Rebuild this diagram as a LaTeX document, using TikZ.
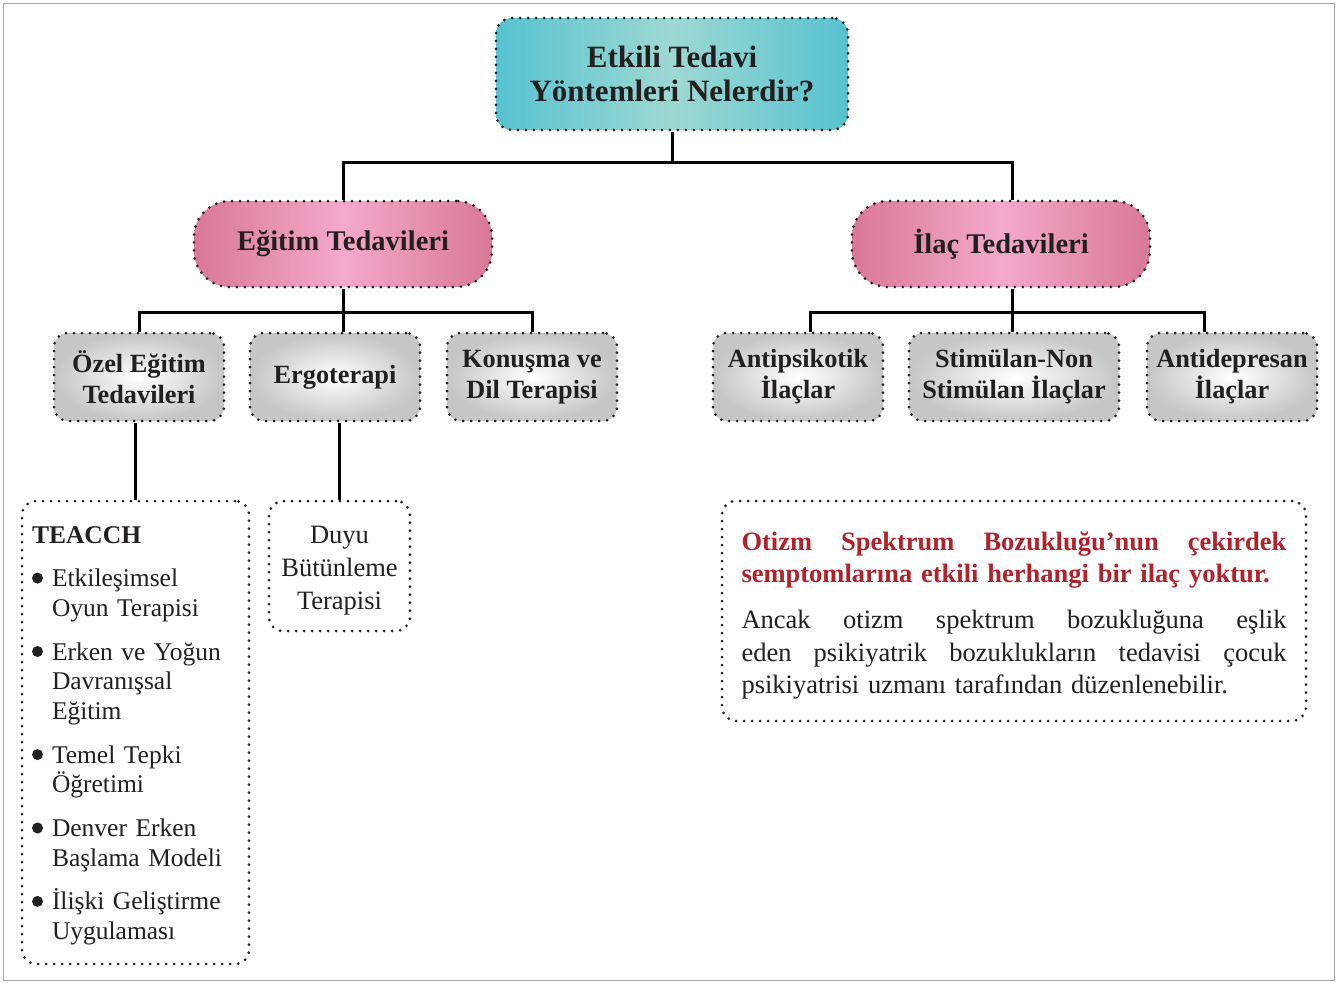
\documentclass[tikz,border=0pt]{standalone}
\usepackage{fontspec}
\setmainfont{Liberation Serif}
\usetikzlibrary{shapes}
\definecolor{ink}{HTML}{231F20}
\definecolor{tealedge}{HTML}{56C2CF}
\definecolor{tealmid}{HTML}{9ED8D3}
\definecolor{pinkedge}{HTML}{D97896}
\definecolor{pinkmid}{HTML}{F4A9CB}
\definecolor{inkred}{HTML}{B3222B}
\newcommand{\lbul}{\makebox[20pt][l]{\tikz[baseline=0pt, x=1pt, y=1pt]\fill[ink] (6.5,8.5) circle (5.5);}}
\newcommand{\lind}{\hspace*{20pt}}
\tikzstyle{dotline} = [draw=ink, line width=3pt, line cap=round, dash pattern=on 0pt off 8pt]
\tikzstyle{root} = [rectangle, dotline, rounded corners=16pt, left color=tealedge,
    right color=tealedge, middle color=tealmid, text=ink, minimum width=352pt,
    minimum height=112pt, align=center, font=\fontsize{31}{34}\selectfont\bfseries]
\tikzstyle{branch} = [rectangle, dotline, rounded corners=36pt, left color=pinkedge,
    right color=pinkedge, middle color=pinkmid, text=ink, minimum width=298pt,
    minimum height=86pt, align=center, font=\fontsize{28.5}{32}\selectfont\bfseries]
\tikzstyle{leaf} = [rectangle, dotline, rounded corners=14pt, inner color=white,
    outer color=gray!45, text=ink, minimum width=170pt, minimum height=88pt,
    inner sep=2pt, align=center, font=\fontsize{26.3}{31}\selectfont\bfseries]
\tikzstyle{listbox} = [rectangle, dotline, rounded corners=14pt, fill=white, text=ink, inner sep=0pt]
\tikzstyle{line} = [draw=black, line width=3pt]

\begin{document}
\begin{tikzpicture}[x=1pt, y=-1pt]
   \useasboundingbox (0,0) rectangle (1342,983);
   \draw [gray!70, line width=1pt] (3,3) rectangle (1334,980);
   % Place nodes
    \node [root] (root) at (672,74) {Etkili Tedavi\\Yöntemleri Nelerdir?};
    \node [branch] (egitim) at (343,244) {Eğitim Tedavileri};
    \node [branch, right of=egitim, node distance=658pt] (ilac) {İlaç Tedavileri};
    \node [leaf] (ozel) at (139,377) {Özel Eğitim\\Tedavileri};
    \node [leaf, right of=ozel, node distance=196pt] (ergo) {Ergoterapi};
    \node [leaf, right of=ergo, node distance=197pt] (konusma) {Konuşma ve\\Dil Terapisi};
    \node [leaf] (antipsi) at (798,377) {Antipsikotik\\İlaçlar};
    \node [leaf, right of=antipsi, node distance=216pt, minimum width=210pt] (stim) {Stimülan-Non\\Stimülan İlaçlar};
    \node [leaf, right of=stim, node distance=218pt] (antidep) {Antidepresan\\İlaçlar};
    \node [listbox, minimum width=227pt, minimum height=463pt, text width=207pt, align=left,
      font=\fontsize{25.5}{29.7}\selectfont] (teacch) at (135.5,732.5) {%
      \rule{0pt}{24pt}\textbf{TEACCH}\\[13pt]
      \lbul Etkileşimsel\\
      \lind Oyun Terapisi\\[14pt]
      \lbul Erken ve Yoğun\\
      \lind Davranışsal\\
      \lind Eğitim\\[14pt]
      \lbul Temel Tepki\\
      \lind Öğretimi\\[14pt]
      \lbul Denver Erken\\
      \lind Başlama Modeli\\[14pt]
      \lbul İlişki Geliştirme\\
      \lind Uygulaması};
    \node [listbox, minimum width=141pt, minimum height=130pt, text width=130pt, align=center,
      font=\fontsize{26.5}{33}\selectfont] (duyu) at (339.5,566) {\rule{0pt}{26pt}Duyu\\Bütünleme\\Terapisi};
    \node [listbox, minimum width=584pt, minimum height=220pt, text width=545pt, align=left,
      font=\fontsize{26.5}{32.5}\selectfont] (not) at (1014,611) {%
      \rule{0pt}{28pt}\textcolor{inkred}{\bfseries\makebox[545pt][s]{Otizm\hfill Spektrum\hfill Bozukluğu’nun\hfill çekirdek}}\\
      \textcolor{inkred}{\bfseries semptomlarına etkili herhangi bir ilaç yoktur.}\\[13.5pt]
      \makebox[545pt][s]{Ancak\hfill otizm\hfill spektrum\hfill bozukluğuna\hfill eşlik}\\
      \makebox[545pt][s]{eden\hfill psikiyatrik\hfill bozuklukların\hfill tedavisi\hfill çocuk}\\
      psikiyatrisi uzmanı tarafından düzenlenebilir.};
   % Draw edges
    \path [line] (root.south) -- ++(0,31) coordinate (r1);
    \path [line] (egitim.north) |- (r1) -| ([xshift=11pt]ilac.north);
    \path [line] (egitim.south) -- ++(0,24) coordinate (e1);
    \path [line] (ozel.north) |- (e1) -| (konusma.north);
    \path [line] (e1) -- (e1 |- ergo.north);
    \path [line] ([xshift=11pt]ilac.south) -- ++(0,24) coordinate (i1);
    \path [line] ([xshift=12pt]antipsi.north) |- (i1) -| ([xshift=-28pt]antidep.north);
    \path [line] (i1) -- (i1 |- stim.north);
    \path [line] (teacch.north |- ozel.south) -- (teacch.north);
    \path [line] (duyu.north |- ergo.south) -- (duyu.north);
\end{tikzpicture}
\end{document}
